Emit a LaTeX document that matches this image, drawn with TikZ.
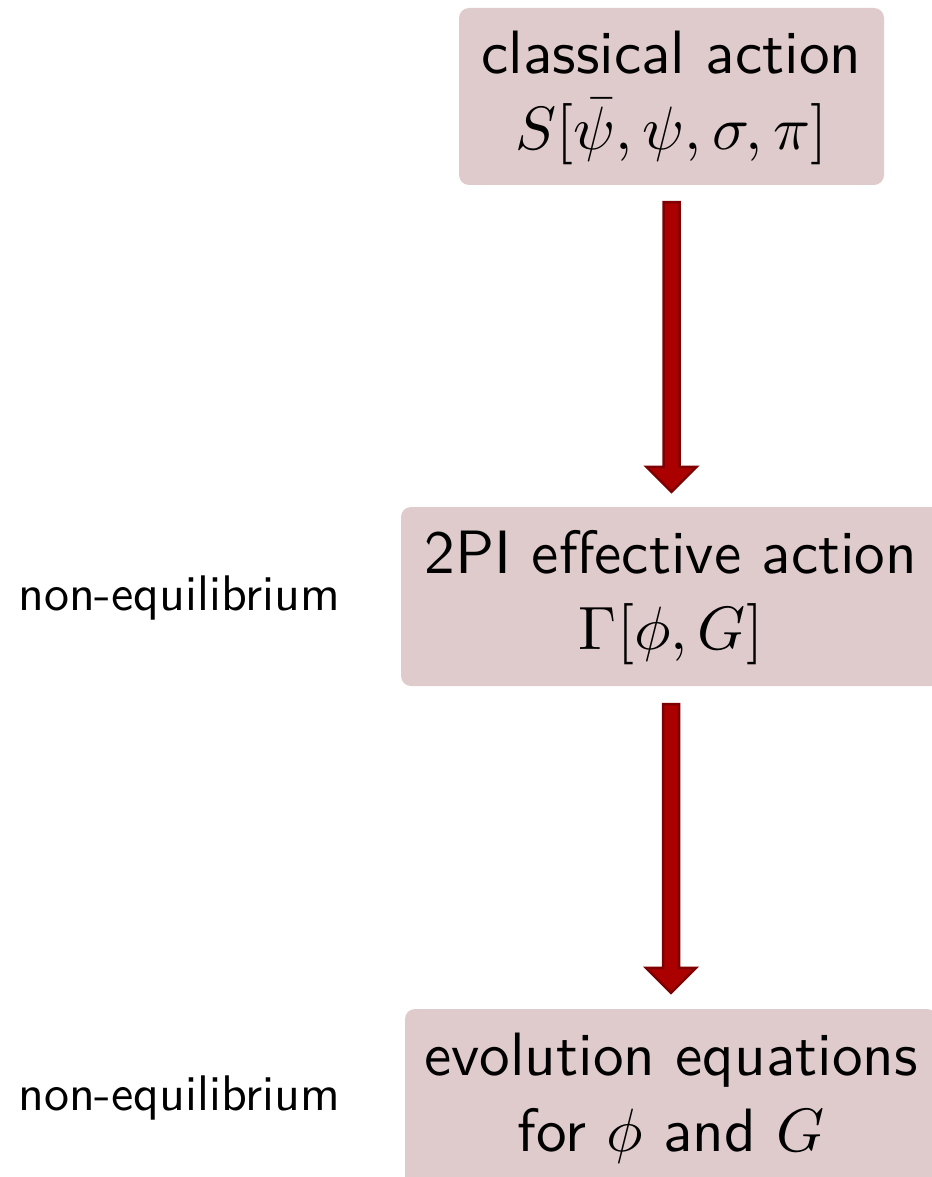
\documentclass[tikz,border=0pt]{standalone}
\usepackage{graphicx}
\usetikzlibrary{calc}
\definecolor{boxfill}{HTML}{E0CBCC}
\definecolor{arrowred}{HTML}{AA0000}
\definecolor{arrowdark}{HTML}{7E0000}
\newcommand{\boxtext}[1]{\scalebox{6.12}{\sffamily\fontsize{10}{12.3}\selectfont\begin{tabular}{@{}c@{}}#1\end{tabular}}}
\newcommand{\sidetext}[1]{\scalebox{5.0}{\sffamily\fontsize{10}{12}\selectfont #1}}
\tikzset{
  stagebox/.style={fill=boxfill, rounded corners=10pt, inner sep=0pt, align=center},
  sidelabel/.style={anchor=base west, inner sep=0pt},
  bigarrow/.style={fill=arrowred, draw=arrowdark, line width=2.5pt, line join=miter}
}
\begin{document}
\begin{tikzpicture}[x=1pt,y=-1pt]
\useasboundingbox (0,0) rectangle (931,1177);
\node[stagebox, minimum width=425pt, minimum height=177pt] (b1) at (671.5,96.5)
  {\boxtext{classical action\\ $S[\bar\psi,\psi,\sigma,\pi]$}};
\node[stagebox, minimum width=540pt, minimum height=179pt] (b2) at (671,596.5)
  {\boxtext{2PI effective action\\ $\Gamma[\phi,G]$}};
\node[stagebox, minimum width=532pt, minimum height=179pt] (b3) at (671,1098.5)
  {\boxtext{evolution equations\\ for $\phi$ and $G$}};
\node[sidelabel] (l1) at (18,610) {\sidetext{non-equilibrium}};
\node[sidelabel] (l2) at (18,1110) {\sidetext{non-equilibrium}};
\path[bigarrow] let \p1=(b1.south), \p2=(b2.north) in
  (\x1-8pt,\y1-17pt) -- (\x1+8pt,\y1-17pt) -- (\x1+8pt,\y2+40pt) -- (\x1+25pt,\y2+40pt)
  -- (\x1,\y2+15pt) -- (\x1-25pt,\y2+40pt) -- (\x1-8pt,\y2+40pt) -- cycle;
\path[bigarrow] let \p1=(b2.south), \p2=(b3.north) in
  (\x1-8pt,\y1-18pt) -- (\x1+8pt,\y1-18pt) -- (\x1+8pt,\y2+41pt) -- (\x1+25pt,\y2+41pt)
  -- (\x1,\y2+16pt) -- (\x1-25pt,\y2+41pt) -- (\x1-8pt,\y2+41pt) -- cycle;
\end{tikzpicture}
\end{document}
